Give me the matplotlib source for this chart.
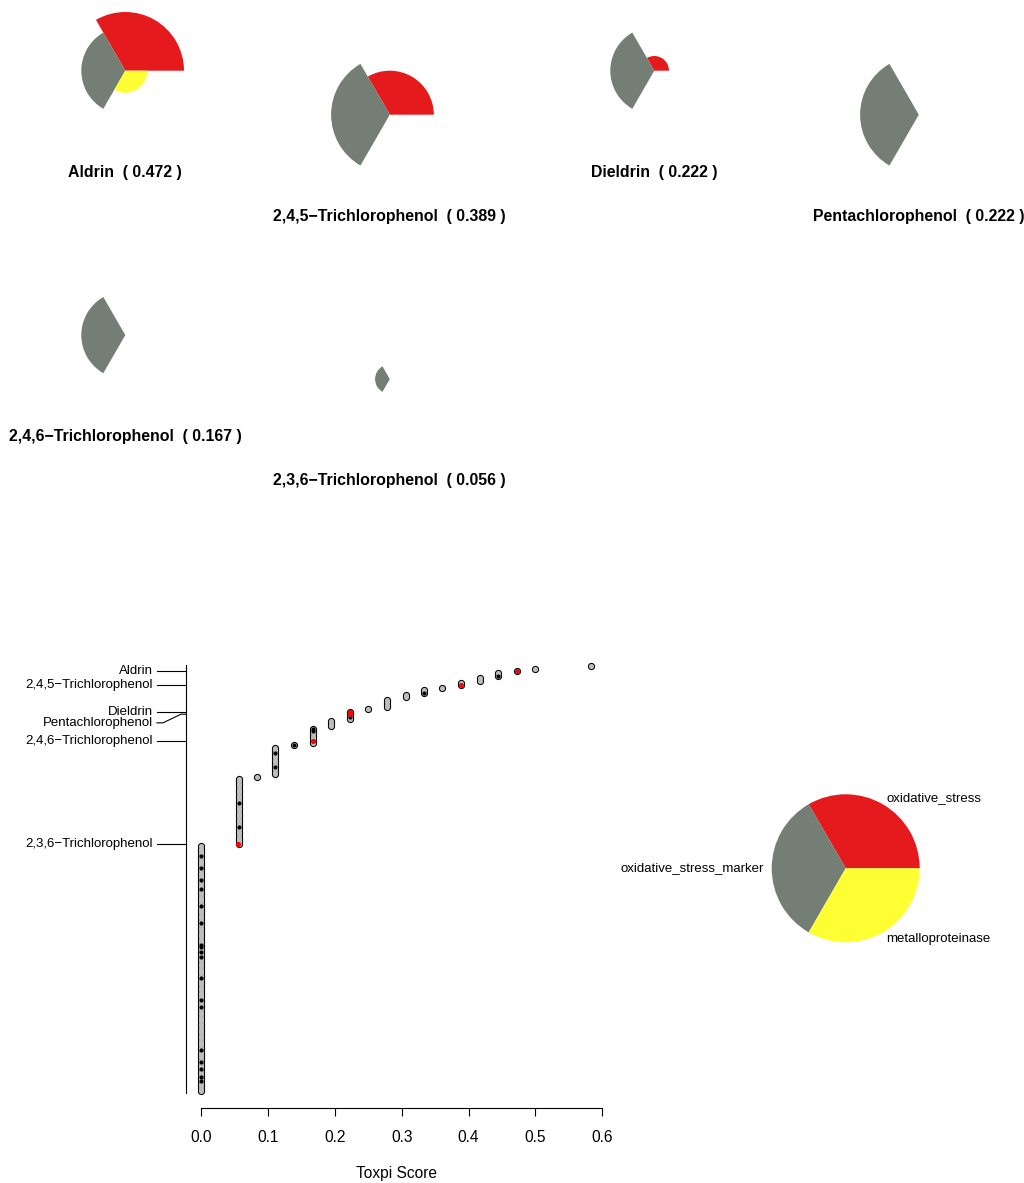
import numpy as np
import matplotlib
matplotlib.use("Agg")
import matplotlib.pyplot as plt
from matplotlib.patches import Wedge
from matplotlib.transforms import blended_transform_factory

plt.rcParams['font.family'] = ['Liberation Sans', 'DejaVu Sans']

W, H = 1024, 1183

# ToxPi slices (0-120, 120-240, 240-360 degrees)
slice_names = ["oxidative_stress", "oxidative_stress_marker", "metalloproteinase"]
slice_colors = ["#E41A1C", "#747E75", "#FFFF33"]

# top chemicals with their slice scores and overall rank
chem_names = ["Aldrin", "2,4,5\u2212Trichlorophenol", "Dieldrin", "Pentachlorophenol",
              "2,4,6\u2212Trichlorophenol", "2,3,6\u2212Trichlorophenol"]
oxidative_stress = [0.667, 0.5, 0.167, 0.0, 0.0, 0.0]
oxidative_stress_marker = [0.5, 0.667, 0.5, 0.667, 0.5, 0.167]
metalloproteinase = [0.25, 0.0, 0.0, 0.0, 0.0, 0.0]
chem_ranks = [3, 9, 20, 21, 32, 75]

# score distribution of all ranked chemicals
score_levels = [0.583, 0.5, 0.472, 0.444, 0.417, 0.389, 0.361, 0.333, 0.306, 0.278,
                0.25, 0.222, 0.194, 0.167, 0.139, 0.111, 0.083, 0.056, 0.0]
level_counts = [1, 1, 1, 2, 2, 2, 1, 2, 2, 4, 1, 4, 3, 7, 1, 12, 1, 28, 103]
marked_ranks = [5, 12, 22, 27, 28, 34, 37, 43, 58, 68, 80, 85, 90, 94, 101, 108, 117,
                118, 120, 122, 131, 140, 143, 161, 166, 169, 172, 174]

fig = plt.figure(figsize=(W / 100, H / 100), dpi=100)
fig.patch.set_facecolor("white")

# ---- individual ToxPi glyphs ----
R_px = 88
chem_scores = []
for i, name in enumerate(chem_names):
    col, row = i % 4, i // 4
    cx = 125.3 + col * 264.5
    cy = 70.7 + row * 264.4 + (col % 2) * 44.0
    ax = fig.add_axes([(cx - R_px) / W, 1 - (cy + R_px) / H, 2 * R_px / W, 2 * R_px / H])
    ax.set_xlim(-1, 1)
    ax.set_ylim(-1, 1)
    ax.axis("off")
    vals = [oxidative_stress[i], oxidative_stress_marker[i], metalloproteinase[i]]
    for k, v in enumerate(vals):
        if v > 0:
            ax.add_patch(Wedge((0, 0), v, 120 * k, 120 * (k + 1),
                               facecolor=slice_colors[k], linewidth=0))
    score = np.mean(vals)
    chem_scores.append(score)
    ax.text(0, -101.5 / R_px, f"{name}  ( {score:.3f} )", ha="center", va="center",
            fontsize=11.4, fontweight="bold", clip_on=False)

# ---- rank plot ----
scores = np.repeat(score_levels, level_counts)
N = len(scores)
ranks = np.arange(1, N + 1)

ax_l, ax_r = 185.6, 606.4
pad_y = 0.04 * (N - 1)
px_rank = 2.4
ax_t = 666.2 - pad_y * px_rank
ax_b = 666.2 + (N - 1 + pad_y) * px_rank
ax = fig.add_axes([ax_l / W, 1 - ax_b / H, (ax_r - ax_l) / W, (ax_b - ax_t) / H])
xmin, xmax = 0.0, max(score_levels)
ax.set_xlim(xmin - 0.04 * (xmax - xmin), xmax + 0.04 * (xmax - xmin))
ax.set_ylim(N + pad_y, 1 - pad_y)

ax.plot(scores, ranks, "o", ms=5.2, color="black", mew=0, clip_on=False)
ax.plot(scores, ranks, "o", ms=3.7, color="#BEBEBE", mew=0, clip_on=False)
mr = np.array(marked_ranks)
ax.plot(scores[mr - 1], mr, "o", ms=3.0, color="black", mew=0)
ax.plot(chem_scores, chem_ranks, "o", ms=3.7, color="red", mew=0)

for s in ["top", "right"]:
    ax.spines[s].set_visible(False)
ax.spines["left"].set_bounds(0.5, N + 1)
ax.spines["bottom"].set_bounds(0, 0.6)
for s in ["left", "bottom"]:
    ax.spines[s].set_linewidth(0.8)
ax.set_yticks([])
ax.set_xticks(np.arange(0, 0.61, 0.1))
ax.set_xticklabels([f"{t:.1f}" for t in np.arange(0, 0.61, 0.1)])
ax.tick_params(axis="x", length=5.8, width=0.8, pad=10, labelsize=11.2)
ax.set_xlabel("Toxpi Score", fontsize=11.2, labelpad=15)

# chemical labels on the rank axis, pushed apart when crowded
def fx(px):
    return (px - ax_l) / (ax_r - ax_l)

trans = blended_transform_factory(ax.transAxes, ax.transData)
lab_y = []
for r in chem_ranks:
    lab_y.append(r if not lab_y else max(r, lab_y[-1] + 4.6))
for name, r, ly in zip(chem_names, chem_ranks, lab_y):
    ax.text(fx(153), ly, name, transform=trans, ha="right", va="center",
            fontsize=9.5, clip_on=False)
    ax.plot([fx(157), fx(163), fx(181), fx(185.6)], [ly, ly, r, r], color="black",
            lw=0.8, transform=trans, clip_on=False)

# ---- slice legend ----
lc_x, lc_y, lr = 845.7, 868.3, 74
lax = fig.add_axes([(lc_x - lr) / W, 1 - (lc_y + lr) / H, 2 * lr / W, 2 * lr / H])
lax.pie([1, 1, 1], colors=slice_colors, labels=slice_names, startangle=0,
        counterclock=True, labeldistance=1.1, wedgeprops=dict(linewidth=0),
        textprops=dict(fontsize=9.5))
lax.set_xlim(-1, 1)
lax.set_ylim(-1, 1)

fig.savefig("out.png", dpi=100)
